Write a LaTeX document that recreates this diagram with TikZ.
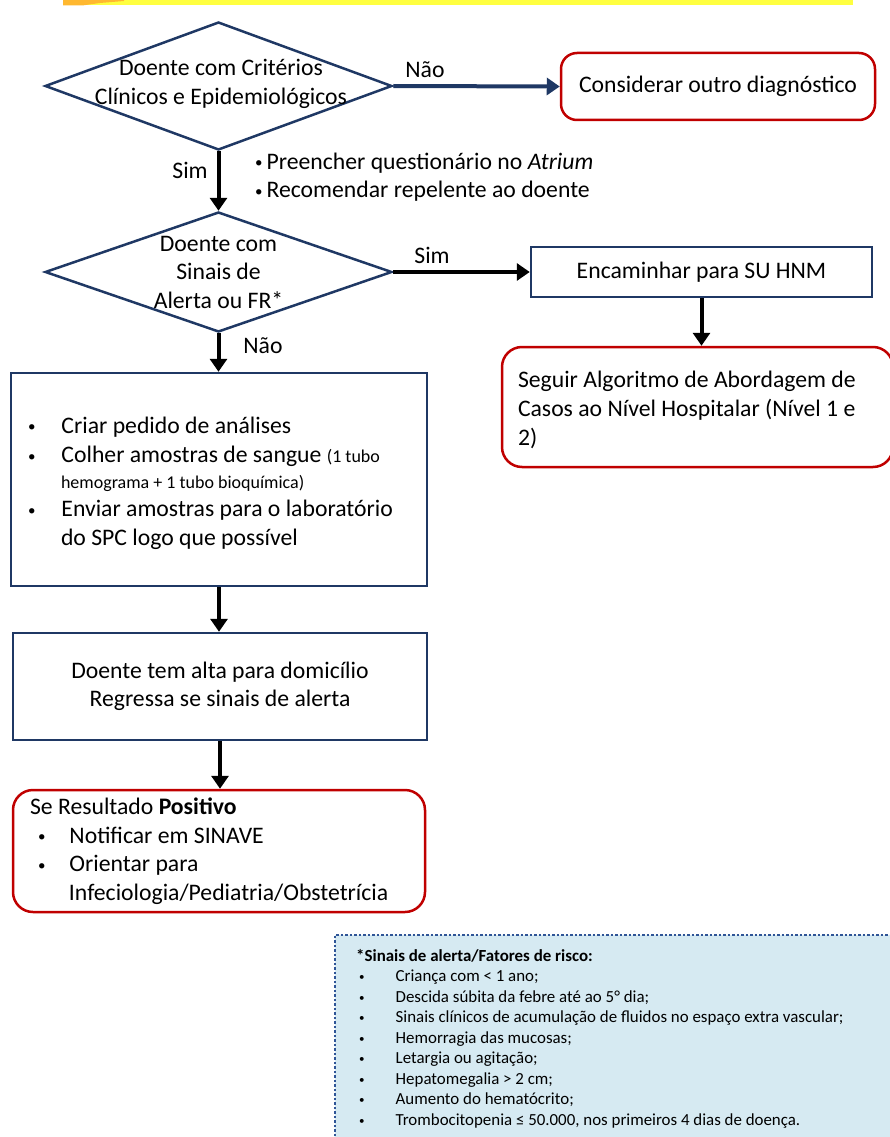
\documentclass[tikz,border=0pt]{standalone}
\usepackage{fontspec}
\setmainfont{Carlito}
\usetikzlibrary{shapes.geometric,arrows.meta}

\definecolor{navy}{RGB}{31,56,100}
\definecolor{alertred}{RGB}{192,0,0}
\definecolor{legendblue}{RGB}{214,234,242}
\definecolor{dotblue}{RGB}{47,85,151}
\definecolor{bandyellow}{RGB}{255,255,64}
\definecolor{bandorange}{RGB}{255,184,48}

\newcommand{\mainsize}{\fontsize{23.7}{28.5}\selectfont}
\newcommand{\notesize}{\fontsize{16.9}{20.5}\selectfont}
\newcommand{\tubesize}{\fontsize{18}{26}\selectfont}
% small list bullets
\newcommand{\blt}{{\fontsize{15}{15}\selectfont\raisebox{1.5pt}{•}}}
\newcommand{\nblt}{{\fontsize{11}{11}\selectfont\raisebox{1pt}{•}}}

\begin{document}
\begin{tikzpicture}[x=1pt,y=-1pt,
  every node/.style={font=\mainsize, text=black},
  decision/.style={draw=navy, line width=2.5pt, diamond, minimum width=347pt, inner sep=0pt},
  plainbox/.style={draw=navy, line width=2.5pt, rectangle, inner sep=0pt},
  endbox/.style={draw=alertred, line width=2.5pt, rectangle, rounded corners=16pt, inner sep=0pt},
  flow/.style={line width=4pt, -{Triangle[length=13pt,width=17pt]}},
  branch/.style={inner sep=0pt}
]
\useasboundingbox (0,0) rectangle (889,1137);

% title band along the top edge
\fill[bandyellow] (63,0) rectangle (853,5.5);
\fill[bandorange] (63,0) -- (124,0) -- (124,1) -- (100,3) -- (82,5.5) -- (63,5.5) -- cycle;

% decisions
\node[decision, minimum height=128pt] (crit) at (218.5,86) {};
\node[align=center, inner sep=0pt] (crittxt) at (221,84)
  {Doente com Critérios\\Clínicos e Epidemiológicos};

\node[decision, minimum height=120pt] (alert) at (218.5,272) {};
\node[align=center, inner sep=0pt] (alerttxt) at (218.5,272)
  {Doente com\\Sinais de\\Alerta ou FR*};

% outcome boxes
\node[endbox, minimum width=314pt, minimum height=67pt] (other) at (718,86.5)
  {Considerar outro diagnóstico};

\node[plainbox, minimum width=341pt, minimum height=50pt] (er) at (701.5,272)
  {Encaminhar para SU HNM};

\node[endbox, rounded corners=20pt, minimum height=120pt, text width=359pt, inner xsep=16pt, align=flush left] (hosp) at (697.5,407)
  {\rule{0pt}{22pt}Seguir Algoritmo de Abordagem de\\[0.5pt]Casos ao Nível Hospitalar (Nível 1 e\\[0.5pt]2)};

\node[plainbox, minimum height=213pt, text width=382pt, inner xsep=17pt, align=flush left] (lab) at (219,479.5)
  {\rule{0pt}{24pt}\blt\hspace{26pt}Criar pedido de análises\\[1pt]
   \blt\hspace{26pt}Colher amostras de sangue {\tubesize(1 tubo}\\[-3pt]
   \hspace*{33pt}{\tubesize hemograma + 1 tubo bioquímica)}\\
   \blt\hspace{26pt}Enviar amostras para o laboratório\\
   \hspace*{33pt}do SPC logo que possível};

\node[plainbox, minimum width=414pt, minimum height=107pt, align=center] (home) at (220,686.5)
  {Doente tem alta para domicílio\\Regressa se sinais de alerta};

\node[endbox, rounded corners=20pt, minimum height=122pt, text width=378pt, inner xsep=17pt, align=flush left] (result) at (219,851)
  {Se Resultado \textbf{Positivo}\\
   \hspace*{8pt}\blt\hspace{24pt}Notificar em SINAVE\\
   \hspace*{8pt}\blt\hspace{24pt}Orientar para\\
   \hspace*{39pt}Infeciologia/Pediatria/Obstetrícia};

% actions listed under the first decision
\node[align=flush left, anchor=west, inner sep=0pt] (todo) at (255,177)
  {\blt\,Preencher questionário no \textit{Atrium}\\\blt\,Recomendar repelente ao doente};

% connectors
\draw[flow, navy] (crit.east) -- (other.west);
\draw[flow] (crit.south) -- (alert.north);
\draw[flow] (alert.east) -- (er.west);
\draw[flow] (er.south) -- (er.south |- hosp.north);
\draw[flow] (alert.south) -- (alert.south |- lab.north);
\draw[flow] (lab.south) -- (lab.south |- home.north);
\draw[flow] (home.south) -- (home.south |- result.north);

% branch labels
\node[branch] (lblno1) at (425,70) {Não};
\node[branch] (lblyes1) at (190,170) {Sim};
\node[branch] (lblyes2) at (432,255) {Sim};
\node[branch] (lblno2) at (263,346) {Não};

% note on warning signs and risk factors
\node[anchor=north west, fill=legendblue, minimum width=560pt, minimum height=210pt, inner sep=0pt] (notebg) at (335,935) {};
\draw[dotblue, line width=2.5pt, dash pattern=on 2.5pt off 2pt] (notebg.south west) -- (notebg.north west) -- (notebg.north east);
\node[anchor=north west, inner sep=0pt, align=flush left, font=\notesize] (notetxt) at (356,949)
  {\textbf{*Sinais de alerta/Fatores de risco:}\\
   \hspace*{3pt}\nblt\hspace{31pt}Criança com < 1 ano;\\
   \hspace*{3pt}\nblt\hspace{31pt}Descida súbita da febre até ao 5° dia;\\
   \hspace*{3pt}\nblt\hspace{31pt}Sinais clínicos de acumulação de fluidos no espaço extra vascular;\\
   \hspace*{3pt}\nblt\hspace{31pt}Hemorragia das mucosas;\\
   \hspace*{3pt}\nblt\hspace{31pt}Letargia ou agitação;\\
   \hspace*{3pt}\nblt\hspace{31pt}Hepatomegalia > 2 cm;\\
   \hspace*{3pt}\nblt\hspace{31pt}Aumento do hematócrito;\\
   \hspace*{3pt}\nblt\hspace{31pt}Trombocitopenia ≤ 50.000, nos primeiros 4 dias de doença.};
\end{tikzpicture}
\end{document}
